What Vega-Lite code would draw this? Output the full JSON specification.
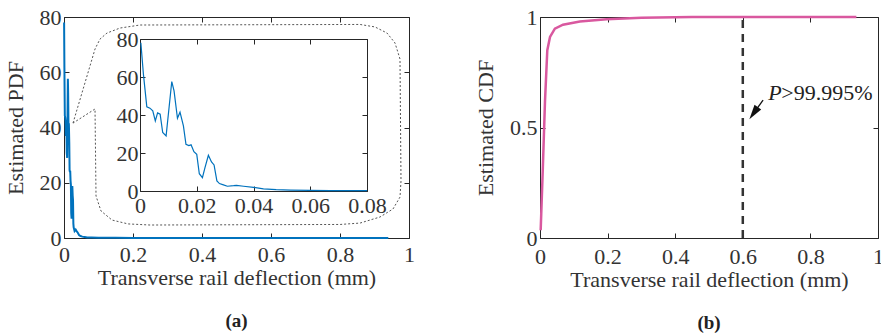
{
  "$schema": "https://vega.github.io/schema/vega-lite/v6.json",
  "padding": {"left": 4, "top": 6, "right": 0, "bottom": 0},
  "background": "white",
  "spacing": 59,
  "config": {
    "font": "Liberation Serif",
    "view": {"stroke": null},
    "axis": {
      "labelFont": "Liberation Serif",
      "titleFont": "Liberation Serif",
      "labelFontSize": 22,
      "titleFontSize": 22,
      "titleFontWeight": "normal",
      "labelColor": "#333333",
      "titleColor": "#333333",
      "domainColor": "#262626",
      "tickColor": "#262626",
      "domainWidth": 1,
      "tickWidth": 1,
      "tickSize": -5,
      "grid": false,
      "labelPadding": 11,
      "labelOverlap": false,
      "labelFlush": false,
      "format": "~r"
    },
    "axisY": {"labelPadding": 8},
    "title": {"font": "Liberation Serif", "fontSize": 19, "fontWeight": "bold", "color": "#222222"}
  },
  "datasets": {
    "pdf": [
      {"x": 0.0003, "y": 78}, {"x": 0.0012, "y": 61.5}, {"x": 0.0024, "y": 44.3}, {"x": 0.0035, "y": 43.6},
      {"x": 0.0045, "y": 42.2}, {"x": 0.0054, "y": 36.9}, {"x": 0.0062, "y": 41.1}, {"x": 0.0071, "y": 40.4},
      {"x": 0.008, "y": 30.8}, {"x": 0.0092, "y": 29}, {"x": 0.0112, "y": 57.6}, {"x": 0.012, "y": 52.7},
      {"x": 0.0132, "y": 38.3}, {"x": 0.0141, "y": 41.5}, {"x": 0.0153, "y": 34.3}, {"x": 0.0162, "y": 24.6},
      {"x": 0.0172, "y": 23.9}, {"x": 0.018, "y": 24.3}, {"x": 0.019, "y": 20.7}, {"x": 0.02, "y": 19.3},
      {"x": 0.0209, "y": 9.1}, {"x": 0.022, "y": 7.0}, {"x": 0.0229, "y": 12.3}, {"x": 0.0241, "y": 18.8},
      {"x": 0.0252, "y": 15.3}, {"x": 0.0261, "y": 13.7}, {"x": 0.0271, "y": 5.3}, {"x": 0.028, "y": 3.9},
      {"x": 0.0294, "y": 3.2}, {"x": 0.0308, "y": 2.5}, {"x": 0.033, "y": 2.8}, {"x": 0.034, "y": 3.0},
      {"x": 0.0365, "y": 2.5}, {"x": 0.04, "y": 1.9}, {"x": 0.0435, "y": 1.1}, {"x": 0.048, "y": 0.7},
      {"x": 0.053, "y": 0.5}, {"x": 0.06, "y": 0.35}, {"x": 0.067, "y": 0.2}, {"x": 0.08, "y": 0.15},
      {"x": 0.1, "y": 0.1}, {"x": 0.15, "y": 0.05}, {"x": 0.2, "y": 0.03}, {"x": 0.3, "y": 0.02},
      {"x": 0.5, "y": 0.01}, {"x": 0.7, "y": 0.005}, {"x": 0.94, "y": 0}
    ],
    "callout": [
      {"i": 0, "x": 0.0261, "y": 41.6}, {"i": 1, "x": 0.0899, "y": 68.4}, {"i": 2, "x": 0.1043, "y": 72.0},
      {"i": 3, "x": 0.1246, "y": 74.2}, {"i": 4, "x": 0.1623, "y": 76.0}, {"i": 5, "x": 0.2203, "y": 77.1},
      {"i": 6, "x": 0.858, "y": 77.3}, {"i": 7, "x": 0.9014, "y": 76.4}, {"i": 8, "x": 0.9362, "y": 74.2},
      {"i": 9, "x": 0.9594, "y": 70.6}, {"i": 10, "x": 0.9739, "y": 64.8}, {"i": 11, "x": 0.9768, "y": 20.6},
      {"i": 12, "x": 0.9739, "y": 14.8}, {"i": 13, "x": 0.9536, "y": 10.5}, {"i": 14, "x": 0.9159, "y": 7.6},
      {"i": 15, "x": 0.858, "y": 5.4}, {"i": 16, "x": 0.8, "y": 4.9}, {"i": 17, "x": 0.2493, "y": 4.7},
      {"i": 18, "x": 0.1855, "y": 5.1}, {"i": 19, "x": 0.1391, "y": 6.5}, {"i": 20, "x": 0.1072, "y": 9.8},
      {"i": 21, "x": 0.0928, "y": 15.2}, {"i": 22, "x": 0.0899, "y": 46.7}, {"i": 23, "x": 0.0261, "y": 41.6}
    ],
    "cdf": [
      {"x": 0.002, "y": 0.035}, {"x": 0.008, "y": 0.3}, {"x": 0.0148, "y": 0.62}, {"x": 0.0216, "y": 0.85},
      {"x": 0.0296, "y": 0.91}, {"x": 0.044, "y": 0.947}, {"x": 0.068, "y": 0.965}, {"x": 0.118, "y": 0.98},
      {"x": 0.197, "y": 0.99}, {"x": 0.3, "y": 0.997}, {"x": 0.45, "y": 0.9995}, {"x": 0.936, "y": 1}
    ]
  },
  "hconcat": [
    {
      "width": 345,
      "height": 221,
      "title": {"text": "(a)", "orient": "bottom", "offset": 24},
      "layer": [
        {
          "layer": [
            {
              "data": {"name": "pdf"},
              "mark": {"type": "line", "color": "#0072BD", "strokeWidth": 2},
              "encoding": {
                "x": {"field": "x", "type": "quantitative", "scale": {"domain": [0, 1], "nice": false},
                      "axis": {"orient": "bottom", "values": [0, 0.2, 0.4, 0.6, 0.8, 1], "title": "Transverse rail deflection (mm)", "titlePadding": 2}},
                "y": {"field": "y", "type": "quantitative", "scale": {"domain": [0, 80], "nice": false},
                      "axis": {"orient": "left", "values": [0, 20, 40, 60, 80], "title": "Estimated PDF", "titlePadding": 12}}
              }
            },
            {
              "data": {"name": "callout"},
              "mark": {"type": "line", "color": "#555555", "strokeWidth": 1, "strokeDash": [2, 2]},
              "encoding": {
                "x": {"field": "x", "type": "quantitative", "scale": {"domain": [0, 1], "nice": false},
                      "axis": {"orient": "top", "values": [0, 0.2, 0.4, 0.6, 0.8, 1], "labels": false, "title": null}},
                "y": {"field": "y", "type": "quantitative", "scale": {"domain": [0, 80], "nice": false},
                      "axis": {"orient": "right", "values": [0, 20, 40, 60, 80], "labels": false, "title": null}},
                "order": {"field": "i", "type": "quantitative"}
              }
            }
          ],
          "resolve": {"scale": {"x": "shared", "y": "shared"}, "axis": {"x": "independent", "y": "independent"}}
        },
        {
          "layer": [
            {
              "data": {"name": "pdf"},
              "transform": [{"filter": "datum.x <= 0.08"}],
              "mark": {"type": "line", "color": "#0072BD", "strokeWidth": 1.2},
              "encoding": {
                "x": {"field": "x", "type": "quantitative", "scale": {"domain": [0, 0.08], "nice": false, "range": [76, 303]},
                      "axis": {"orient": "bottom", "offset": -47, "values": [0, 0.02, 0.04, 0.06, 0.08], "title": null, "labelPadding": 9}},
                "y": {"field": "y", "type": "quantitative", "scale": {"domain": [0, 80], "nice": false, "range": [174, 22]},
                      "axis": {"orient": "left", "offset": -76, "values": [0, 20, 40, 60, 80], "title": null, "labelPadding": 7}}
              }
            },
            {
              "data": {"values": [{"x0": 0, "x1": 0.08, "y0": 0, "y1": 80}]},
              "mark": {"type": "rect", "opacity": 0},
              "encoding": {
                "x": {"field": "x0", "type": "quantitative", "scale": {"domain": [0, 0.08], "nice": false, "range": [76, 303]},
                      "axis": {"orient": "top", "offset": -22, "values": [0, 0.02, 0.04, 0.06, 0.08], "labels": false, "title": null}},
                "x2": {"field": "x1"},
                "y": {"field": "y0", "type": "quantitative", "scale": {"domain": [0, 80], "nice": false, "range": [174, 22]},
                      "axis": {"orient": "right", "offset": -42, "values": [0, 20, 40, 60, 80], "labels": false, "title": null}},
                "y2": {"field": "y1"}
              }
            }
          ],
          "resolve": {"scale": {"x": "shared", "y": "shared"}, "axis": {"x": "independent", "y": "independent"}}
        }
      ],
      "resolve": {"scale": {"x": "independent", "y": "independent"}, "axis": {"x": "independent", "y": "independent"}}
    },
    {
      "width": 338,
      "height": 221,
      "title": {"text": "(b)", "orient": "bottom", "offset": 24},
      "layer": [
        {
          "data": {"name": "cdf"},
          "mark": {"type": "line", "color": "#D9589F", "strokeWidth": 2.5},
          "encoding": {
            "x": {"field": "x", "type": "quantitative", "scale": {"domain": [0, 1], "nice": false},
                  "axis": {"orient": "bottom", "values": [0, 0.2, 0.4, 0.6, 0.8, 1], "title": "Transverse rail deflection (mm)", "titlePadding": 2, "labelPadding": 13}},
            "y": {"field": "y", "type": "quantitative", "scale": {"domain": [0, 1], "nice": false},
                  "axis": {"orient": "left", "values": [0, 0.5, 1], "title": "Estimated CDF", "titlePadding": 12}}
          }
        },
        {
          "data": {"values": [{"x": 0.6, "y0": 0, "y1": 1}]},
          "mark": {"type": "rule", "color": "#333333", "strokeWidth": 2.5, "strokeDash": [8, 6]},
          "encoding": {
            "x": {"field": "x", "type": "quantitative", "scale": {"domain": [0, 1], "nice": false},
                  "axis": {"orient": "top", "values": [0, 0.2, 0.4, 0.6, 0.8, 1], "labels": false, "title": null}},
            "y": {"field": "y0", "type": "quantitative", "scale": {"domain": [0, 1], "nice": false},
                  "axis": {"orient": "right", "values": [0, 0.5, 1], "labels": false, "title": null}},
            "y2": {"field": "y1"}
          }
        },
        {
          "data": {"values": [{"x": 0.66, "y": 0.624, "xe": 0.63, "ye": 0.56}]},
          "mark": {"type": "rule", "color": "#111111", "strokeWidth": 1.3},
          "encoding": {
            "x": {"field": "x", "type": "quantitative", "axis": null},
            "y": {"field": "y", "type": "quantitative", "axis": null},
            "x2": {"field": "xe"},
            "y2": {"field": "ye"}
          }
        },
        {
          "data": {"values": [{"x": 0.632, "y": 0.565}]},
          "mark": {"type": "point", "shape": "M0,-1L0.55,1L-0.55,1Z", "filled": true, "color": "#111111", "size": 220, "angle": 215, "opacity": 1},
          "encoding": {
            "x": {"field": "x", "type": "quantitative", "axis": null},
            "y": {"field": "y", "type": "quantitative", "axis": null}
          }
        },
        {
          "data": {"values": [{"x": 0.675, "y": 0.624, "t": "P"}]},
          "mark": {"type": "text", "align": "left", "baseline": "alphabetic", "fontSize": 22, "font": "Liberation Serif", "fontStyle": "italic", "color": "#222222"},
          "encoding": {
            "x": {"field": "x", "type": "quantitative", "axis": null},
            "y": {"field": "y", "type": "quantitative", "axis": null},
            "text": {"field": "t"}
          }
        },
        {
          "data": {"values": [{"x": 0.714, "y": 0.624, "t": ">99.995%"}]},
          "mark": {"type": "text", "align": "left", "baseline": "alphabetic", "fontSize": 22, "font": "Liberation Serif", "color": "#222222"},
          "encoding": {
            "x": {"field": "x", "type": "quantitative", "axis": null},
            "y": {"field": "y", "type": "quantitative", "axis": null},
            "text": {"field": "t"}
          }
        }
      ],
      "resolve": {"scale": {"x": "shared", "y": "shared"}, "axis": {"x": "independent", "y": "independent"}}
    }
  ]
}
